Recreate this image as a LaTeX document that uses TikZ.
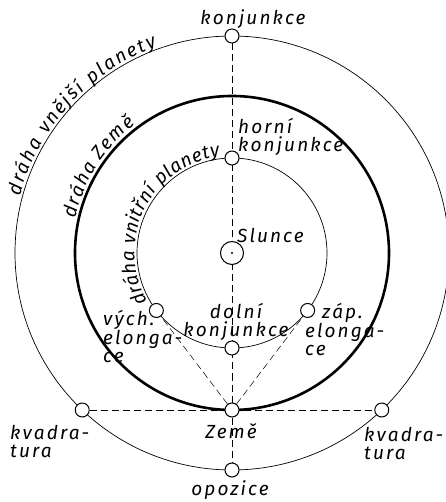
\documentclass[tikz,border=0pt]{standalone}
\usepackage{fontspec}
\setmainfont{Fira Sans}
\newfontfamily\lettering[LetterSpace=11]{Fira Sans}
\usetikzlibrary{positioning,decorations.text,backgrounds}

\begin{document}
\begin{tikzpicture}[x=1pt, y=1pt,
  orbit/.style={line width=0.7pt},
  earthorbit/.style={line width=2.6pt},
  planet/.style={circle, draw, fill=white, line width=1pt, minimum size=14pt, inner sep=0pt},
  sun/.style={circle, draw, fill=white, line width=1pt, minimum size=23pt, inner sep=0pt},
  guide/.style={dash pattern=on 7pt off 4pt, line width=0.5pt},
  lbl/.style={font=\lettering\itshape\fontsize{19}{18}\selectfont, inner sep=0pt},
  orbitlbl/.style={decorate, decoration={text along path, text align=fit to path,
    text={|\itshape\fontsize{19}{18}\selectfont|#1}}}
]
  \useasboundingbox (-232,-249) rectangle (213,253);

  % Orbits
  \draw[orbit] (0,0) circle (217);
  \draw[earthorbit] (0,0) circle (157);
  \draw[orbit] (0,0) circle (95);

  % Orbit labels
  \path[orbitlbl={dráha vnější planety}] (165:219.5) arc[start angle=165, end angle=110, radius=219.5];
  \path[orbitlbl={dráha Země}] (167.5:160.5) arc[start angle=167.5, end angle=127, radius=160.5];
  \path[orbitlbl={dráha vnitřní planety}] (210:97.5) arc[start angle=210, end angle=97, radius=97.5];

  % Sun and planet positions
  \node[sun] (slunce) at (0,0) {};
  \fill (slunce.center) circle (1.2pt);
  \node[planet] (konj) at (90:217) {};
  \node[planet] (opoz) at (270:217) {};
  \node[planet] (horn) at (90:95) {};
  \node[planet] (doln) at (270:95) {};
  \node[planet] (vychel) at (217.23:95) {};
  \node[planet] (zapel) at (322.77:95) {};
  \node[planet] (zeme) at (270:157) {};
  \node[planet] (kvadL) at (226.35:217) {};
  \node[planet] (kvadR) at (313.65:217) {};

  % Sight lines
  \begin{scope}[on background layer]
    \draw[guide] (konj) -- (opoz);
    \draw[guide] (kvadL) -- (kvadR);
    \draw[guide] (zeme) -- (vychel);
    \draw[guide] (zeme) -- (zapel);
  \end{scope}

  % Labels
  \node[lbl, anchor=base] (konjT) at (21,228) {konjunkce};
  \node[lbl, anchor=north west, align=left] (hornT) at (6,135) {horní\\konjunkce};
  \node[lbl, anchor=base west] (sluncT) at (5,10) {Slunce};
  \node[lbl, anchor=north, align=center] (dolnT) at (4,-50) {dolní\\konjunkce};
  \node[lbl, anchor=north west, align=left] (vychT) at (-129,-57) {vých.\\elonga-\\ce};
  \node[lbl, anchor=north west, align=left] (zapT) at (73,-50) {\hspace*{17pt}záp.\\elonga-\\ce};
  \node[lbl, anchor=north west, align=left] (kvadLT) at (-222,-172) {kvadra-\\tura};
  \node[lbl, anchor=north west, align=left] (kvadRT) at (132,-174) {kvadra-\\tura};
  \node[lbl, anchor=north] (zemeT) at (-1,-170) {Země};
  \node[lbl, anchor=base] (opozT) at (-2,-242) {opozice};
\end{tikzpicture}
\end{document}
